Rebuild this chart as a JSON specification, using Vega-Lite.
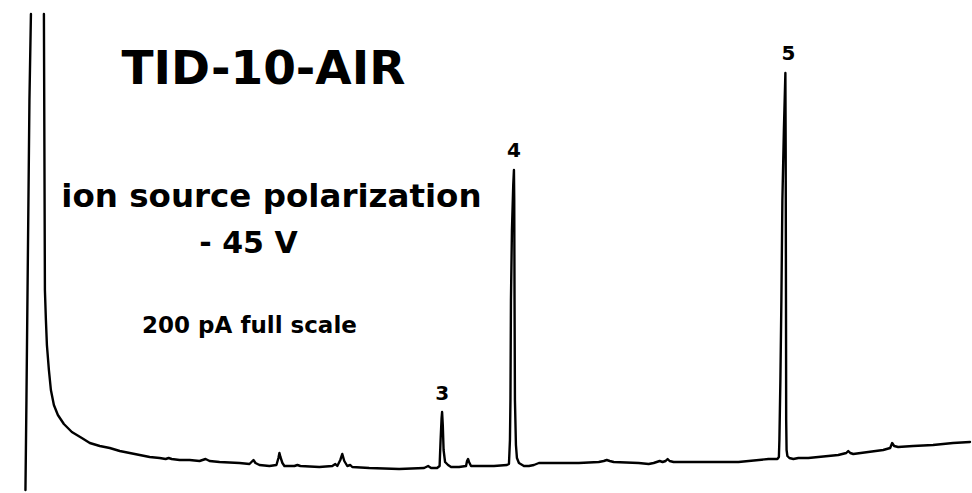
{
  "$schema": "https://vega.github.io/schema/vega-lite/v6.json",
  "width": 972,
  "height": 493,
  "autosize": {"type": "fit", "contains": "padding"},
  "padding": 0,
  "background": "white",
  "config": {"view": {"stroke": null}},
  "datasets": {
    "trace": [
      {"s": "marker", "t": 31, "v": 479}, {"s": "marker", "t": 29.5, "v": 393}, {"s": "marker", "t": 28, "v": 243}, {"s": "marker", "t": 26.5, "v": 93}, {"s": "marker", "t": 25.5, "v": 3},
      {"s": "gc", "t": 44, "v": 479}, {"s": "gc", "t": 44.5, "v": 343}, {"s": "gc", "t": 45, "v": 203}, {"s": "gc", "t": 46, "v": 173}, {"s": "gc", "t": 47, "v": 148},
      {"s": "gc", "t": 49, "v": 123}, {"s": "gc", "t": 51, "v": 103}, {"s": "gc", "t": 54, "v": 88}, {"s": "gc", "t": 58, "v": 78}, {"s": "gc", "t": 64, "v": 69},
      {"s": "gc", "t": 72, "v": 61}, {"s": "gc", "t": 82, "v": 55}, {"s": "gc", "t": 90, "v": 50}, {"s": "gc", "t": 100, "v": 47}, {"s": "gc", "t": 110, "v": 45},
      {"s": "gc", "t": 120, "v": 42}, {"s": "gc", "t": 130, "v": 40}, {"s": "gc", "t": 140, "v": 38}, {"s": "gc", "t": 150, "v": 36}, {"s": "gc", "t": 160, "v": 35},
      {"s": "gc", "t": 166, "v": 34}, {"s": "gc", "t": 169, "v": 35}, {"s": "gc", "t": 172, "v": 34}, {"s": "gc", "t": 180, "v": 33}, {"s": "gc", "t": 190, "v": 33},
      {"s": "gc", "t": 200, "v": 32}, {"s": "gc", "t": 203, "v": 33}, {"s": "gc", "t": 206, "v": 34}, {"s": "gc", "t": 210, "v": 32}, {"s": "gc", "t": 220, "v": 31},
      {"s": "gc", "t": 240, "v": 30}, {"s": "gc", "t": 250, "v": 29}, {"s": "gc", "t": 252, "v": 31}, {"s": "gc", "t": 254, "v": 33}, {"s": "gc", "t": 256, "v": 30},
      {"s": "gc", "t": 260, "v": 28}, {"s": "gc", "t": 270, "v": 27}, {"s": "gc", "t": 277, "v": 28}, {"s": "gc", "t": 279, "v": 35}, {"s": "gc", "t": 280, "v": 40},
      {"s": "gc", "t": 281, "v": 36}, {"s": "gc", "t": 283, "v": 30}, {"s": "gc", "t": 285, "v": 27}, {"s": "gc", "t": 295, "v": 27}, {"s": "gc", "t": 298, "v": 28},
      {"s": "gc", "t": 301, "v": 27}, {"s": "gc", "t": 320, "v": 26}, {"s": "gc", "t": 333, "v": 27}, {"s": "gc", "t": 336, "v": 29}, {"s": "gc", "t": 338, "v": 27},
      {"s": "gc", "t": 341, "v": 33}, {"s": "gc", "t": 343, "v": 39}, {"s": "gc", "t": 345, "v": 32}, {"s": "gc", "t": 348, "v": 27}, {"s": "gc", "t": 351, "v": 28},
      {"s": "gc", "t": 353, "v": 26}, {"s": "gc", "t": 370, "v": 25}, {"s": "gc", "t": 400, "v": 24}, {"s": "gc", "t": 425, "v": 25}, {"s": "gc", "t": 429, "v": 27},
      {"s": "gc", "t": 432, "v": 25}, {"s": "gc", "t": 438, "v": 25}, {"s": "gc", "t": 440.5, "v": 27}, {"s": "gc", "t": 441.5, "v": 53}, {"s": "gc", "t": 442.5, "v": 75},
      {"s": "gc", "t": 443, "v": 81}, {"s": "gc", "t": 443.7, "v": 68}, {"s": "gc", "t": 444.5, "v": 43}, {"s": "gc", "t": 446, "v": 31}, {"s": "gc", "t": 449, "v": 28},
      {"s": "gc", "t": 452, "v": 26}, {"s": "gc", "t": 460, "v": 26}, {"s": "gc", "t": 467, "v": 27}, {"s": "gc", "t": 468, "v": 32}, {"s": "gc", "t": 469, "v": 34},
      {"s": "gc", "t": 470, "v": 31}, {"s": "gc", "t": 472, "v": 27}, {"s": "gc", "t": 480, "v": 27}, {"s": "gc", "t": 495, "v": 27}, {"s": "gc", "t": 508, "v": 28},
      {"s": "gc", "t": 510, "v": 29}, {"s": "gc", "t": 511, "v": 53}, {"s": "gc", "t": 511.5, "v": 93}, {"s": "gc", "t": 512, "v": 193}, {"s": "gc", "t": 513, "v": 263},
      {"s": "gc", "t": 514.3, "v": 308}, {"s": "gc", "t": 515, "v": 323}, {"s": "gc", "t": 515.3, "v": 293}, {"s": "gc", "t": 515.6, "v": 193}, {"s": "gc", "t": 516, "v": 93},
      {"s": "gc", "t": 517, "v": 48}, {"s": "gc", "t": 518, "v": 35}, {"s": "gc", "t": 520, "v": 30}, {"s": "gc", "t": 525, "v": 27}, {"s": "gc", "t": 530, "v": 27},
      {"s": "gc", "t": 535, "v": 28}, {"s": "gc", "t": 540, "v": 30}, {"s": "gc", "t": 550, "v": 30}, {"s": "gc", "t": 580, "v": 30}, {"s": "gc", "t": 600, "v": 31},
      {"s": "gc", "t": 605, "v": 32}, {"s": "gc", "t": 608, "v": 33}, {"s": "gc", "t": 611, "v": 32}, {"s": "gc", "t": 615, "v": 31}, {"s": "gc", "t": 640, "v": 30},
      {"s": "gc", "t": 650, "v": 29}, {"s": "gc", "t": 655, "v": 30}, {"s": "gc", "t": 658, "v": 31}, {"s": "gc", "t": 661, "v": 32}, {"s": "gc", "t": 664, "v": 31},
      {"s": "gc", "t": 667, "v": 32}, {"s": "gc", "t": 669, "v": 34}, {"s": "gc", "t": 671, "v": 32}, {"s": "gc", "t": 675, "v": 31}, {"s": "gc", "t": 700, "v": 31},
      {"s": "gc", "t": 740, "v": 31}, {"s": "gc", "t": 770, "v": 34}, {"s": "gc", "t": 779, "v": 34}, {"s": "gc", "t": 780.5, "v": 36}, {"s": "gc", "t": 781, "v": 53},
      {"s": "gc", "t": 782, "v": 113}, {"s": "gc", "t": 783, "v": 193}, {"s": "gc", "t": 784, "v": 293}, {"s": "gc", "t": 785.5, "v": 363}, {"s": "gc", "t": 787, "v": 420},
      {"s": "gc", "t": 787.3, "v": 343}, {"s": "gc", "t": 787.6, "v": 193}, {"s": "gc", "t": 787.8, "v": 73}, {"s": "gc", "t": 788.2, "v": 43}, {"s": "gc", "t": 789, "v": 37},
      {"s": "gc", "t": 791, "v": 35}, {"s": "gc", "t": 795, "v": 34}, {"s": "gc", "t": 800, "v": 35}, {"s": "gc", "t": 810, "v": 35}, {"s": "gc", "t": 820, "v": 36},
      {"s": "gc", "t": 830, "v": 37}, {"s": "gc", "t": 840, "v": 38}, {"s": "gc", "t": 848, "v": 40}, {"s": "gc", "t": 850, "v": 42}, {"s": "gc", "t": 852, "v": 40},
      {"s": "gc", "t": 855, "v": 39}, {"s": "gc", "t": 870, "v": 41}, {"s": "gc", "t": 885, "v": 43}, {"s": "gc", "t": 892, "v": 45}, {"s": "gc", "t": 894, "v": 50},
      {"s": "gc", "t": 896, "v": 47}, {"s": "gc", "t": 900, "v": 46}, {"s": "gc", "t": 915, "v": 47}, {"s": "gc", "t": 935, "v": 48}, {"s": "gc", "t": 955, "v": 50},
      {"s": "gc", "t": 972, "v": 51}
    ]
  },
  "encoding": {
    "x": {"field": "t", "type": "quantitative", "scale": {"domain": [0, 972], "nice": false, "zero": false}, "axis": null},
    "y": {"field": "v", "type": "quantitative", "scale": {"domain": [0, 493], "nice": false, "zero": false}, "axis": null}
  },
  "layer": [
    {
      "data": {"name": "trace"},
      "mark": {"type": "line", "color": "black", "strokeWidth": 2.4, "strokeJoin": "round", "strokeCap": "round"},
      "encoding": {"detail": {"field": "s"}}
    },
    {
      "data": {"values": [{"t": 264, "v": 409, "label": "TID-10-AIR"}]},
      "mark": {"type": "text", "font": "DejaVu Sans", "fontWeight": "bold", "fontSize": 47, "align": "center", "baseline": "alphabetic", "color": "black"},
      "encoding": {"text": {"field": "label"}}
    },
    {
      "data": {"values": [{"t": 272, "v": 286, "label": "ion source polarization"}]},
      "mark": {"type": "text", "font": "DejaVu Sans", "fontWeight": "bold", "fontSize": 32.5, "align": "center", "baseline": "alphabetic", "color": "black"},
      "encoding": {"text": {"field": "label"}}
    },
    {
      "data": {"values": [{"t": 249, "v": 240, "label": "- 45 V"}]},
      "mark": {"type": "text", "font": "DejaVu Sans", "fontWeight": "bold", "fontSize": 30, "align": "center", "baseline": "alphabetic", "color": "black"},
      "encoding": {"text": {"field": "label"}}
    },
    {
      "data": {"values": [{"t": 250, "v": 160, "label": "200 pA full scale"}]},
      "mark": {"type": "text", "font": "DejaVu Sans", "fontWeight": "bold", "fontSize": 23, "align": "center", "baseline": "alphabetic", "color": "black"},
      "encoding": {"text": {"field": "label"}}
    },
    {
      "data": {"values": [{"t": 443, "v": 93, "label": "3"}, {"t": 515, "v": 336, "label": "4"}, {"t": 790, "v": 433, "label": "5"}]},
      "mark": {"type": "text", "font": "DejaVu Sans", "fontWeight": "bold", "fontSize": 20, "align": "center", "baseline": "alphabetic", "color": "black"},
      "encoding": {"text": {"field": "label"}}
    }
  ]
}
